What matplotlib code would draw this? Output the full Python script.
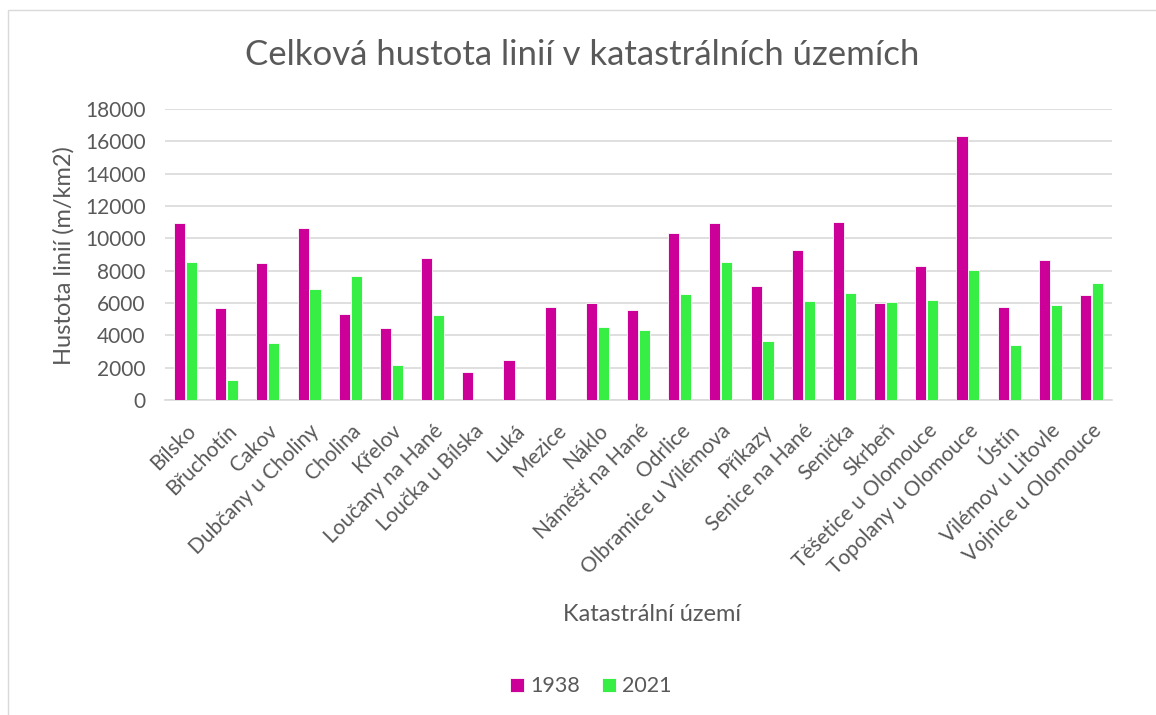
import numpy as np
import matplotlib
matplotlib.use("Agg")
import matplotlib.pyplot as plt
import matplotlib.transforms as mtrans
from matplotlib.patches import Rectangle

plt.rcParams['font.family'] = ['Lato', 'DejaVu Sans']

# katastralni uzemi a hustota linii (m/km2)
uzemi = ["Bílsko", "Břuchotín", "Cakov", "Dubčany u Choliny", "Cholina", "Křelov",
         "Loučany na Hané", "Loučka u Bílska", "Luká", "Mezice", "Náklo",
         "Náměšť na Hané", "Odrlice", "Olbramice u Vilémova", "Příkazy",
         "Senice na Hané", "Senička", "Skrbeň", "Těšetice u Olomouce",
         "Topolany u Olomouce", "Ústín", "Vilémov u Litovle", "Vojnice u Olomouce"]
h1938 = [10950, 5670, 8500, 10640, 5340, 4450, 8800, 1730, 2500, 5750, 6020,
         5570, 10350, 10950, 7030, 9260, 11010, 6020, 8270, 16350, 5750, 8640, 6500]
h2021 = [8560, 1220, 3530, 6850, 7670, 2170, 5280, 0, 0, 0, 4520,
         4350, 6580, 8520, 3630, 6100, 6620, 6060, 6170, 8040, 3400, 5880, 7260]

c1938 = '#CC0099'
c2021 = '#36EE44'
txt = '#595959'

fig = plt.figure(figsize=(11.56, 7.15), dpi=100)
ax = fig.add_axes([0.1427, 0.4406, 0.8193, 0.4070])

x = np.arange(len(uzemi))
w = 0.27
ax.bar(x - 0.145, h1938, w, color=c1938, edgecolor='white', linewidth=0.6, label='1938', zorder=3)
ax.bar(x + 0.145, h2021, w, color=c2021, edgecolor='white', linewidth=0.6, label='2021', zorder=3)

ax.set_xlim(-0.5, len(uzemi) - 0.5)
ax.set_ylim(0, 18000)
ax.set_yticks(np.arange(0, 18001, 2000))
ax.grid(axis='y', color='#D9D9D9', linewidth=1.2, zorder=0)
for s in ['top', 'right', 'left']:
    ax.spines[s].set_visible(False)
ax.spines['bottom'].set_color('#D9D9D9')
ax.spines['bottom'].set_linewidth(1.2)
ax.tick_params(length=0, colors=txt, labelsize=15)
ax.tick_params(axis='y', pad=14)
ax.set_xticks(x)
ax.set_xticklabels(uzemi, rotation=45, ha='right', va='center', rotation_mode='anchor')
ax.tick_params(axis='x', pad=20)
# posun popisku trochu doprava
posun = mtrans.ScaledTranslation(7 / 100, 0, fig.dpi_scale_trans)
for lab in ax.get_xticklabels():
    lab.set_transform(lab.get_transform() + posun)

# popisky os
fig.text(0.055, 0.643, "Hustota linií (m/km2)", rotation=90, ha='center', va='center',
         fontsize=17, color=txt)
fig.text(0.564, 0.140, "Katastrální území", ha='center', va='center', fontsize=17, color=txt)
fig.text(0.504, 0.923, "Celková hustota linií v katastrálních územích",
         ha='center', va='center', fontsize=25, color=txt)

fig.legend(loc='center', bbox_to_anchor=(0.511, 0.040), ncol=2, frameon=False,
           handlelength=0.65, handleheight=0.65, handletextpad=0.3, columnspacing=1.0,
           fontsize=15.5, labelcolor=txt)

# chart border
fig.patches.append(Rectangle((8 / 1156, -0.01), 1.0, 1 - 10 / 715 + 0.01,
                             transform=fig.transFigure, fill=False,
                             edgecolor='#D9D9D9', linewidth=1.0))

fig.savefig("out.png", dpi=100)
